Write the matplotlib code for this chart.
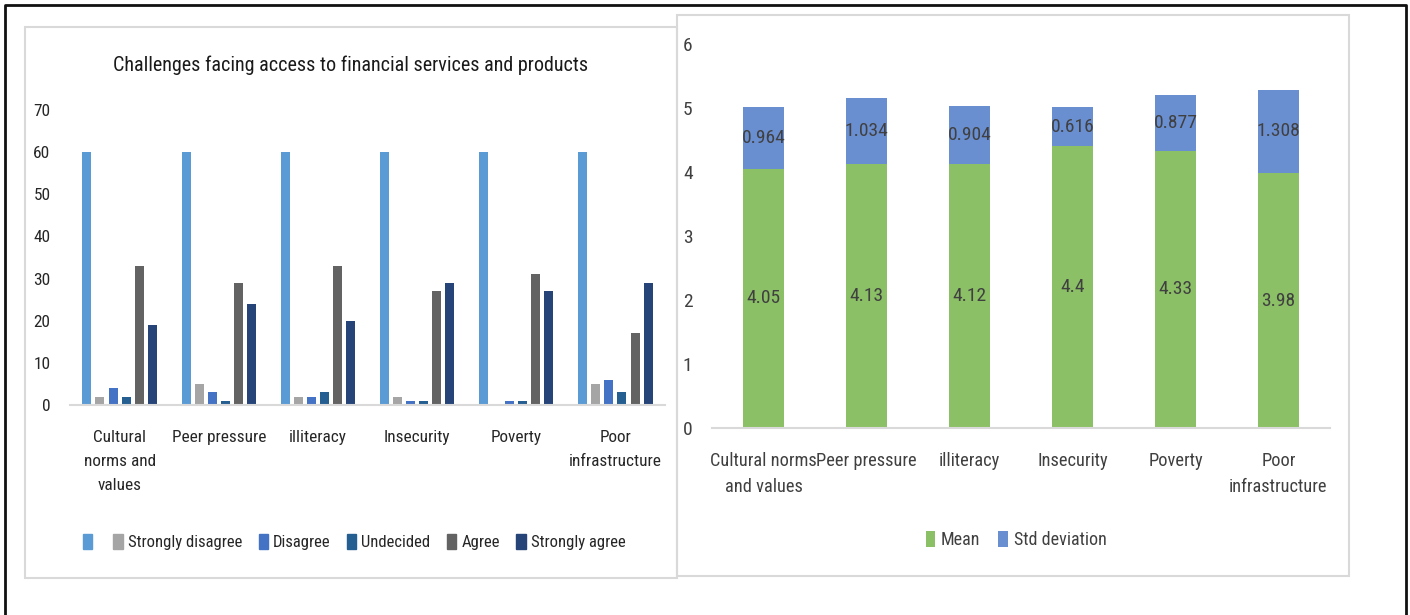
import matplotlib
matplotlib.use("Agg")
import numpy as np
import matplotlib.pyplot as plt
from matplotlib import font_manager
from matplotlib.patches import Rectangle, Patch
from matplotlib.lines import Line2D

# data
left_categories = ["Cultural\nnorms and\nvalues", "Peer pressure", "illiteracy",
                   "Insecurity", "Poverty", "Poor\ninfrastructure"]
right_categories = ["Cultural norms\nand values", "Peer pressure", "illiteracy",
                    "Insecurity", "Poverty", "Poor\ninfrastructure"]
series_names = ["", "Strongly disagree", "Disagree", "Undecided", "Agree", "Strongly agree"]
unnamed_series = [60, 60, 60, 60, 60, 60]
strongly_disagree = [2, 5, 2, 2, 0, 5]
disagree = [4, 3, 2, 1, 1, 6]
undecided = [2, 1, 3, 1, 1, 3]
agree = [33, 29, 33, 27, 31, 17]
strongly_agree = [19, 24, 20, 29, 27, 29]
left_ticks = [0, 10, 20, 30, 40, 50, 60, 70]

mean = [4.05, 4.13, 4.12, 4.4, 4.33, 3.98]
std_dev = [0.964, 1.034, 0.904, 0.616, 0.877, 1.308]
right_ticks = [0, 1, 2, 3, 4, 5, 6]

left_colors = ["#5B9BD5", "#A5A5A5", "#4472C4", "#255E91", "#636363", "#264478"]
mean_color = "#8BC066"
std_color = "#6A8FD1"

# pick a narrow font if one exists, the reference text is squeezed
names = set(font_manager.get_font_names())
FONT = "Lato"
k = 0.88
for fam in ["Liberation Sans Narrow", "Roboto Condensed", "Open Sans Condensed"]:
    if fam in names:
        FONT = fam
        k = 1.0
        break
plt.rcParams["font.family"] = [FONT, "DejaVu Sans"]

W, H = 1410, 615
fig = plt.figure(figsize=(W / 100, H / 100), dpi=100)


def fx(px):
    return px / W


def fy(py):
    return 1 - py / H


# outer black frame (bottom edge is cut off in the reference)
fig.add_artist(Line2D([fx(5), fx(5), fx(1406), fx(1406)], [0, fy(5), fy(5), 0],
                      transform=fig.transFigure, color="#111111", lw=2))
# panel borders
fig.add_artist(Rectangle((fx(25), fy(578)), fx(677) - fx(25), fy(27) - fy(578),
                         transform=fig.transFigure, fill=False, ec="#D9D9D9", lw=1.5))
fig.add_artist(Rectangle((fx(677), fy(576)), fx(1349) - fx(677), fy(15) - fy(576),
                         transform=fig.transFigure, fill=False, ec="#D9D9D9", lw=1.5))

# ---- left chart: clustered bars
ax1 = fig.add_axes([fx(70), fy(405), fx(665) - fx(70), fy(110) - fy(405)])
x = np.arange(len(left_categories))
all_series = [unnamed_series, strongly_disagree, disagree, undecided, agree, strongly_agree]
bw = 0.091
pitch = 0.132
handles = []
for i, vals in enumerate(all_series):
    ax1.bar(x + (i - 2.5) * pitch, vals, bw, color=left_colors[i])
    handles.append(Patch(color=left_colors[i]))

ax1.set_xlim(-0.5, 5.5)
ax1.set_ylim(0, 70)
ax1.set_yticks(left_ticks)
ax1.set_xticks(x)
ax1.set_xticklabels(left_categories)
ax1.tick_params(axis="both", length=0, labelsize=12.4 * k, colors="#262626")
ax1.tick_params(axis="y", pad=14)
ax1.tick_params(axis="x", pad=18)
for t in ax1.get_xticklabels():
    t.set_linespacing(1.75)
for s in ["top", "right", "left"]:
    ax1.spines[s].set_visible(False)
ax1.spines["bottom"].set_color("#D9D9D9")
ax1.spines["bottom"].set_linewidth(1.5)

fig.text(fx(351), fy(65), "Challenges facing access to financial services and products",
         ha="center", va="center", fontsize=14.5 * k, color="#1a1a1a")

fig.legend(handles, series_names, loc="center", bbox_to_anchor=(fx(354), fy(542)),
           ncol=6, frameon=False, fontsize=12 * k, handlelength=0.55, handleheight=1.0,
           handletextpad=0.3, columnspacing=1.0, labelcolor="#262626")

# ---- right chart: stacked mean + std deviation
ax2 = fig.add_axes([fx(712), fy(428), fx(1330) - fx(712), fy(44) - fy(428)])
x2 = np.arange(len(right_categories))
b1 = ax2.bar(x2, mean, 0.4, color=mean_color, label="Mean")
b2 = ax2.bar(x2, std_dev, 0.4, bottom=mean, color=std_color, label="Std deviation")
ax2.bar_label(b1, labels=[f"{v:g}" for v in mean], label_type="center",
              fontsize=14 * k, color="#404040")
ax2.bar_label(b2, labels=[f"{v:g}" for v in std_dev], label_type="center",
              fontsize=14 * k, color="#404040")
ax2.set_xlim(-0.5, 5.5)
ax2.set_ylim(0, 6)
ax2.set_yticks(right_ticks)
ax2.set_xticks(x2)
ax2.set_xticklabels(right_categories)
ax2.tick_params(axis="both", length=0, labelsize=13.2 * k, colors="#404040")
ax2.tick_params(axis="y", labelsize=14 * k, pad=14)
ax2.tick_params(axis="x", pad=17)
for t in ax2.get_xticklabels():
    t.set_linespacing(1.6)
for s in ["top", "right", "left"]:
    ax2.spines[s].set_visible(False)
ax2.spines["bottom"].set_color("#D9D9D9")
ax2.spines["bottom"].set_linewidth(1.5)

fig.legend(handles=[b1, b2], loc="center", bbox_to_anchor=(fx(1016), fy(540)),
           ncol=2, frameon=False, fontsize=13 * k, handlelength=0.55, handleheight=1.0,
           handletextpad=0.3, columnspacing=1.0, labelcolor="#404040")

fig.savefig("out.png", dpi=100)
